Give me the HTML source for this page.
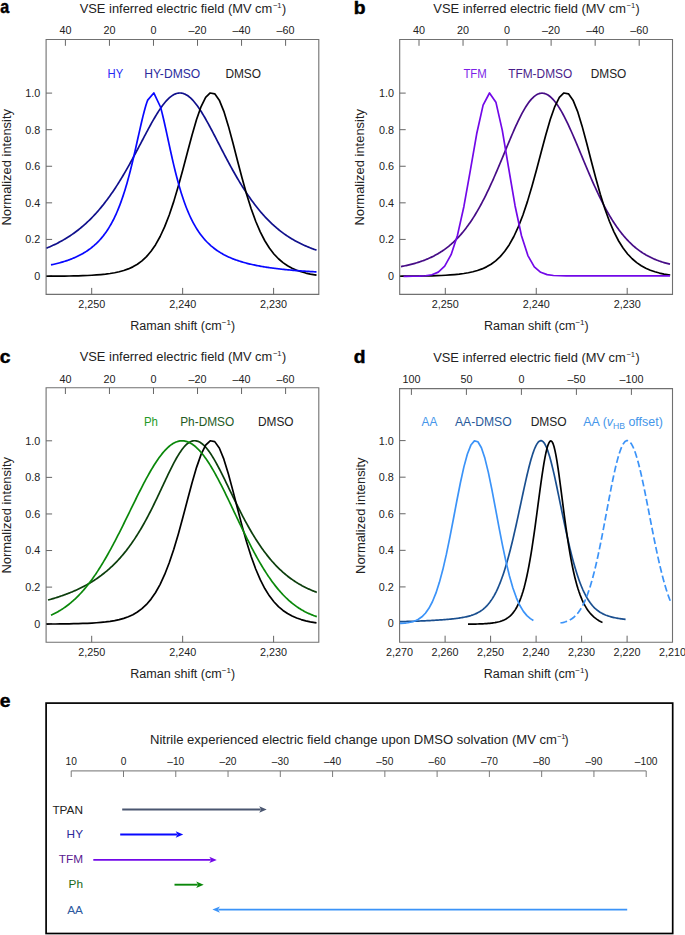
<!DOCTYPE html>
<html><head><meta charset="utf-8"><style>
html,body{margin:0;padding:0;background:#fff;overflow:hidden;}
svg{display:block;font-family:'Liberation Sans', sans-serif;}
</style></head><body>
<svg width="685" height="935" viewBox="0 0 685 935">
<rect width="685" height="935" fill="#fff"/>
<path d="M46.10,39.50 H318.80 V294.40 H46.10 Z" fill="none" stroke="#707070" stroke-width="1.1"/>
<line x1="65.40" y1="39.50" x2="65.40" y2="45.80" stroke="#666" stroke-width="1.00"/>
<line x1="109.44" y1="39.50" x2="109.44" y2="45.80" stroke="#666" stroke-width="1.00"/>
<line x1="153.48" y1="39.50" x2="153.48" y2="45.80" stroke="#666" stroke-width="1.00"/>
<line x1="197.52" y1="39.50" x2="197.52" y2="45.80" stroke="#666" stroke-width="1.00"/>
<line x1="241.56" y1="39.50" x2="241.56" y2="45.80" stroke="#666" stroke-width="1.00"/>
<line x1="285.60" y1="39.50" x2="285.60" y2="45.80" stroke="#666" stroke-width="1.00"/>
<text x="65.40" y="34.30" font-size="10.80" text-anchor="middle" fill="#222" >40</text>
<text x="109.44" y="34.30" font-size="10.80" text-anchor="middle" fill="#222" >20</text>
<text x="153.48" y="34.30" font-size="10.80" text-anchor="middle" fill="#222" >0</text>
<text x="197.52" y="34.30" font-size="10.80" text-anchor="middle" fill="#222" >–20</text>
<text x="241.56" y="34.30" font-size="10.80" text-anchor="middle" fill="#222" >–40</text>
<text x="285.60" y="34.30" font-size="10.80" text-anchor="middle" fill="#222" >–60</text>
<line x1="91.70" y1="294.40" x2="91.70" y2="287.90" stroke="#666" stroke-width="1.00"/>
<line x1="182.65" y1="294.40" x2="182.65" y2="287.90" stroke="#666" stroke-width="1.00"/>
<line x1="273.60" y1="294.40" x2="273.60" y2="287.90" stroke="#666" stroke-width="1.00"/>
<text x="91.70" y="307.90" font-size="10.80" text-anchor="middle" fill="#222" >2,250</text>
<text x="182.65" y="307.90" font-size="10.80" text-anchor="middle" fill="#222" >2,240</text>
<text x="273.60" y="307.90" font-size="10.80" text-anchor="middle" fill="#222" >2,230</text>
<line x1="46.10" y1="93.10" x2="52.10" y2="93.10" stroke="#666" stroke-width="1.00"/>
<line x1="46.10" y1="129.68" x2="52.10" y2="129.68" stroke="#666" stroke-width="1.00"/>
<line x1="46.10" y1="166.26" x2="52.10" y2="166.26" stroke="#666" stroke-width="1.00"/>
<line x1="46.10" y1="202.84" x2="52.10" y2="202.84" stroke="#666" stroke-width="1.00"/>
<line x1="46.10" y1="239.42" x2="52.10" y2="239.42" stroke="#666" stroke-width="1.00"/>
<line x1="46.10" y1="276.00" x2="52.10" y2="276.00" stroke="#666" stroke-width="1.00"/>
<text x="40.30" y="97.00" font-size="10.80" text-anchor="end" fill="#222" >1.0</text>
<text x="40.30" y="133.58" font-size="10.80" text-anchor="end" fill="#222" >0.8</text>
<text x="40.30" y="170.16" font-size="10.80" text-anchor="end" fill="#222" >0.6</text>
<text x="40.30" y="206.74" font-size="10.80" text-anchor="end" fill="#222" >0.4</text>
<text x="40.30" y="243.32" font-size="10.80" text-anchor="end" fill="#222" >0.2</text>
<text x="40.30" y="279.90" font-size="10.80" text-anchor="end" fill="#222" >0</text>
<text x="79.70" y="12.90" font-size="12.5" fill="#222"><tspan textLength="192.6" lengthAdjust="spacingAndGlyphs">VSE inferred electric field (MV cm</tspan><tspan font-size="7.6" dy="-5" dx="0.6">−1</tspan><tspan dy="5" dx="0.4">)</tspan></text>
<text x="130.30" y="330.00" font-size="12.3" fill="#222"><tspan textLength="91.5" lengthAdjust="spacingAndGlyphs">Raman shift (cm</tspan><tspan font-size="8" dy="-4.6">−1</tspan><tspan dy="4.6">)</tspan></text>
<text x="0" y="0" font-size="12.3" fill="#222" text-anchor="middle" textLength="116.5" lengthAdjust="spacingAndGlyphs" transform="translate(10.50,167.25) rotate(-90)">Normalized intensity</text>
<path d="M399.70,39.50 H672.50 V294.40 H399.70 Z" fill="none" stroke="#707070" stroke-width="1.1"/>
<line x1="419.00" y1="39.50" x2="419.00" y2="45.80" stroke="#666" stroke-width="1.00"/>
<line x1="463.04" y1="39.50" x2="463.04" y2="45.80" stroke="#666" stroke-width="1.00"/>
<line x1="507.08" y1="39.50" x2="507.08" y2="45.80" stroke="#666" stroke-width="1.00"/>
<line x1="551.12" y1="39.50" x2="551.12" y2="45.80" stroke="#666" stroke-width="1.00"/>
<line x1="595.16" y1="39.50" x2="595.16" y2="45.80" stroke="#666" stroke-width="1.00"/>
<line x1="639.20" y1="39.50" x2="639.20" y2="45.80" stroke="#666" stroke-width="1.00"/>
<text x="419.00" y="34.30" font-size="10.80" text-anchor="middle" fill="#222" >40</text>
<text x="463.04" y="34.30" font-size="10.80" text-anchor="middle" fill="#222" >20</text>
<text x="507.08" y="34.30" font-size="10.80" text-anchor="middle" fill="#222" >0</text>
<text x="551.12" y="34.30" font-size="10.80" text-anchor="middle" fill="#222" >–20</text>
<text x="595.16" y="34.30" font-size="10.80" text-anchor="middle" fill="#222" >–40</text>
<text x="639.20" y="34.30" font-size="10.80" text-anchor="middle" fill="#222" >–60</text>
<line x1="445.30" y1="294.40" x2="445.30" y2="287.90" stroke="#666" stroke-width="1.00"/>
<line x1="536.25" y1="294.40" x2="536.25" y2="287.90" stroke="#666" stroke-width="1.00"/>
<line x1="627.20" y1="294.40" x2="627.20" y2="287.90" stroke="#666" stroke-width="1.00"/>
<text x="445.30" y="307.90" font-size="10.80" text-anchor="middle" fill="#222" >2,250</text>
<text x="536.25" y="307.90" font-size="10.80" text-anchor="middle" fill="#222" >2,240</text>
<text x="627.20" y="307.90" font-size="10.80" text-anchor="middle" fill="#222" >2,230</text>
<line x1="399.70" y1="93.10" x2="405.70" y2="93.10" stroke="#666" stroke-width="1.00"/>
<line x1="399.70" y1="129.68" x2="405.70" y2="129.68" stroke="#666" stroke-width="1.00"/>
<line x1="399.70" y1="166.26" x2="405.70" y2="166.26" stroke="#666" stroke-width="1.00"/>
<line x1="399.70" y1="202.84" x2="405.70" y2="202.84" stroke="#666" stroke-width="1.00"/>
<line x1="399.70" y1="239.42" x2="405.70" y2="239.42" stroke="#666" stroke-width="1.00"/>
<line x1="399.70" y1="276.00" x2="405.70" y2="276.00" stroke="#666" stroke-width="1.00"/>
<text x="393.90" y="97.00" font-size="10.80" text-anchor="end" fill="#222" >1.0</text>
<text x="393.90" y="133.58" font-size="10.80" text-anchor="end" fill="#222" >0.8</text>
<text x="393.90" y="170.16" font-size="10.80" text-anchor="end" fill="#222" >0.6</text>
<text x="393.90" y="206.74" font-size="10.80" text-anchor="end" fill="#222" >0.4</text>
<text x="393.90" y="243.32" font-size="10.80" text-anchor="end" fill="#222" >0.2</text>
<text x="393.90" y="279.90" font-size="10.80" text-anchor="end" fill="#222" >0</text>
<text x="433.30" y="12.90" font-size="12.5" fill="#222"><tspan textLength="192.6" lengthAdjust="spacingAndGlyphs">VSE inferred electric field (MV cm</tspan><tspan font-size="7.6" dy="-5" dx="0.6">−1</tspan><tspan dy="5" dx="0.4">)</tspan></text>
<text x="483.90" y="330.00" font-size="12.3" fill="#222"><tspan textLength="91.5" lengthAdjust="spacingAndGlyphs">Raman shift (cm</tspan><tspan font-size="8" dy="-4.6">−1</tspan><tspan dy="4.6">)</tspan></text>
<text x="0" y="0" font-size="12.3" fill="#222" text-anchor="middle" textLength="116.5" lengthAdjust="spacingAndGlyphs" transform="translate(364.10,167.25) rotate(-90)">Normalized intensity</text>
<path d="M46.10,387.70 H318.80 V642.30 H46.10 Z" fill="none" stroke="#707070" stroke-width="1.1"/>
<line x1="65.40" y1="387.70" x2="65.40" y2="394.00" stroke="#666" stroke-width="1.00"/>
<line x1="109.44" y1="387.70" x2="109.44" y2="394.00" stroke="#666" stroke-width="1.00"/>
<line x1="153.48" y1="387.70" x2="153.48" y2="394.00" stroke="#666" stroke-width="1.00"/>
<line x1="197.52" y1="387.70" x2="197.52" y2="394.00" stroke="#666" stroke-width="1.00"/>
<line x1="241.56" y1="387.70" x2="241.56" y2="394.00" stroke="#666" stroke-width="1.00"/>
<line x1="285.60" y1="387.70" x2="285.60" y2="394.00" stroke="#666" stroke-width="1.00"/>
<text x="65.40" y="382.50" font-size="10.80" text-anchor="middle" fill="#222" >40</text>
<text x="109.44" y="382.50" font-size="10.80" text-anchor="middle" fill="#222" >20</text>
<text x="153.48" y="382.50" font-size="10.80" text-anchor="middle" fill="#222" >0</text>
<text x="197.52" y="382.50" font-size="10.80" text-anchor="middle" fill="#222" >–20</text>
<text x="241.56" y="382.50" font-size="10.80" text-anchor="middle" fill="#222" >–40</text>
<text x="285.60" y="382.50" font-size="10.80" text-anchor="middle" fill="#222" >–60</text>
<line x1="91.70" y1="642.30" x2="91.70" y2="635.80" stroke="#666" stroke-width="1.00"/>
<line x1="182.65" y1="642.30" x2="182.65" y2="635.80" stroke="#666" stroke-width="1.00"/>
<line x1="273.60" y1="642.30" x2="273.60" y2="635.80" stroke="#666" stroke-width="1.00"/>
<text x="91.70" y="655.80" font-size="10.80" text-anchor="middle" fill="#222" >2,250</text>
<text x="182.65" y="655.80" font-size="10.80" text-anchor="middle" fill="#222" >2,240</text>
<text x="273.60" y="655.80" font-size="10.80" text-anchor="middle" fill="#222" >2,230</text>
<line x1="46.10" y1="440.80" x2="52.10" y2="440.80" stroke="#666" stroke-width="1.00"/>
<line x1="46.10" y1="477.38" x2="52.10" y2="477.38" stroke="#666" stroke-width="1.00"/>
<line x1="46.10" y1="513.96" x2="52.10" y2="513.96" stroke="#666" stroke-width="1.00"/>
<line x1="46.10" y1="550.54" x2="52.10" y2="550.54" stroke="#666" stroke-width="1.00"/>
<line x1="46.10" y1="587.12" x2="52.10" y2="587.12" stroke="#666" stroke-width="1.00"/>
<line x1="46.10" y1="623.70" x2="52.10" y2="623.70" stroke="#666" stroke-width="1.00"/>
<text x="40.30" y="444.70" font-size="10.80" text-anchor="end" fill="#222" >1.0</text>
<text x="40.30" y="481.28" font-size="10.80" text-anchor="end" fill="#222" >0.8</text>
<text x="40.30" y="517.86" font-size="10.80" text-anchor="end" fill="#222" >0.6</text>
<text x="40.30" y="554.44" font-size="10.80" text-anchor="end" fill="#222" >0.4</text>
<text x="40.30" y="591.02" font-size="10.80" text-anchor="end" fill="#222" >0.2</text>
<text x="40.30" y="627.60" font-size="10.80" text-anchor="end" fill="#222" >0</text>
<text x="79.70" y="361.10" font-size="12.5" fill="#222"><tspan textLength="192.6" lengthAdjust="spacingAndGlyphs">VSE inferred electric field (MV cm</tspan><tspan font-size="7.6" dy="-5" dx="0.6">−1</tspan><tspan dy="5" dx="0.4">)</tspan></text>
<text x="130.30" y="677.90" font-size="12.3" fill="#222"><tspan textLength="91.5" lengthAdjust="spacingAndGlyphs">Raman shift (cm</tspan><tspan font-size="8" dy="-4.6">−1</tspan><tspan dy="4.6">)</tspan></text>
<text x="0" y="0" font-size="12.3" fill="#222" text-anchor="middle" textLength="116.5" lengthAdjust="spacingAndGlyphs" transform="translate(10.50,515.30) rotate(-90)">Normalized intensity</text>
<path d="M399.60,388.60 H672.50 V642.20 H399.60 Z" fill="none" stroke="#707070" stroke-width="1.1"/>
<line x1="411.40" y1="388.60" x2="411.40" y2="394.90" stroke="#666" stroke-width="1.00"/>
<line x1="466.40" y1="388.60" x2="466.40" y2="394.90" stroke="#666" stroke-width="1.00"/>
<line x1="521.40" y1="388.60" x2="521.40" y2="394.90" stroke="#666" stroke-width="1.00"/>
<line x1="576.40" y1="388.60" x2="576.40" y2="394.90" stroke="#666" stroke-width="1.00"/>
<line x1="631.40" y1="388.60" x2="631.40" y2="394.90" stroke="#666" stroke-width="1.00"/>
<text x="411.40" y="383.40" font-size="10.80" text-anchor="middle" fill="#222" >100</text>
<text x="466.40" y="383.40" font-size="10.80" text-anchor="middle" fill="#222" >50</text>
<text x="521.40" y="383.40" font-size="10.80" text-anchor="middle" fill="#222" >0</text>
<text x="576.40" y="383.40" font-size="10.80" text-anchor="middle" fill="#222" >–50</text>
<text x="631.40" y="383.40" font-size="10.80" text-anchor="middle" fill="#222" >–100</text>
<line x1="445.10" y1="642.20" x2="445.10" y2="635.70" stroke="#666" stroke-width="1.00"/>
<line x1="490.60" y1="642.20" x2="490.60" y2="635.70" stroke="#666" stroke-width="1.00"/>
<line x1="536.10" y1="642.20" x2="536.10" y2="635.70" stroke="#666" stroke-width="1.00"/>
<line x1="581.60" y1="642.20" x2="581.60" y2="635.70" stroke="#666" stroke-width="1.00"/>
<line x1="627.10" y1="642.20" x2="627.10" y2="635.70" stroke="#666" stroke-width="1.00"/>
<text x="399.60" y="656.30" font-size="10.80" text-anchor="middle" fill="#222" >2,270</text>
<text x="445.10" y="656.30" font-size="10.80" text-anchor="middle" fill="#222" >2,260</text>
<text x="490.60" y="656.30" font-size="10.80" text-anchor="middle" fill="#222" >2,250</text>
<text x="536.10" y="656.30" font-size="10.80" text-anchor="middle" fill="#222" >2,240</text>
<text x="581.60" y="656.30" font-size="10.80" text-anchor="middle" fill="#222" >2,230</text>
<text x="627.10" y="656.30" font-size="10.80" text-anchor="middle" fill="#222" >2,220</text>
<text x="672.60" y="656.30" font-size="10.80" text-anchor="middle" fill="#222" >2,210</text>
<line x1="399.60" y1="440.60" x2="405.60" y2="440.60" stroke="#666" stroke-width="1.00"/>
<line x1="399.60" y1="477.18" x2="405.60" y2="477.18" stroke="#666" stroke-width="1.00"/>
<line x1="399.60" y1="513.76" x2="405.60" y2="513.76" stroke="#666" stroke-width="1.00"/>
<line x1="399.60" y1="550.34" x2="405.60" y2="550.34" stroke="#666" stroke-width="1.00"/>
<line x1="399.60" y1="586.92" x2="405.60" y2="586.92" stroke="#666" stroke-width="1.00"/>
<line x1="399.60" y1="623.50" x2="405.60" y2="623.50" stroke="#666" stroke-width="1.00"/>
<text x="393.80" y="444.50" font-size="10.80" text-anchor="end" fill="#222" >1.0</text>
<text x="393.80" y="481.08" font-size="10.80" text-anchor="end" fill="#222" >0.8</text>
<text x="393.80" y="517.66" font-size="10.80" text-anchor="end" fill="#222" >0.6</text>
<text x="393.80" y="554.24" font-size="10.80" text-anchor="end" fill="#222" >0.4</text>
<text x="393.80" y="590.82" font-size="10.80" text-anchor="end" fill="#222" >0.2</text>
<text x="393.80" y="627.40" font-size="10.80" text-anchor="end" fill="#222" >0</text>
<text x="433.20" y="362.00" font-size="12.5" fill="#222"><tspan textLength="192.6" lengthAdjust="spacingAndGlyphs">VSE inferred electric field (MV cm</tspan><tspan font-size="7.6" dy="-5" dx="0.6">−1</tspan><tspan dy="5" dx="0.4">)</tspan></text>
<text x="483.80" y="677.80" font-size="12.3" fill="#222"><tspan textLength="91.5" lengthAdjust="spacingAndGlyphs">Raman shift (cm</tspan><tspan font-size="8" dy="-4.6">−1</tspan><tspan dy="4.6">)</tspan></text>
<text x="0" y="0" font-size="12.3" fill="#222" text-anchor="middle" textLength="116.5" lengthAdjust="spacingAndGlyphs" transform="translate(365.30,515.70) rotate(-90)">Normalized intensity</text>
<text x="0" y="0" font-size="17.5" font-weight="bold" fill="#000" stroke="#000" stroke-width="0.45" transform="translate(0.20,12.80) scale(0.92,1)">a</text>
<text x="0" y="0" font-size="17.5" font-weight="bold" fill="#000" stroke="#000" stroke-width="0.45" transform="translate(353.80,13.80) scale(1.10,1)">b</text>
<text x="0" y="0" font-size="17.5" font-weight="bold" fill="#000" stroke="#000" stroke-width="0.45" transform="translate(-0.20,363.00) scale(1.10,1)">c</text>
<text x="0" y="0" font-size="17.5" font-weight="bold" fill="#000" stroke="#000" stroke-width="0.45" transform="translate(353.80,362.70) scale(1.10,1)">d</text>
<text x="0" y="0" font-size="17.5" font-weight="bold" fill="#000" stroke="#000" stroke-width="0.45" transform="translate(-0.20,706.80) scale(1.10,1)">e</text>
<text x="107.60" y="77.60" font-size="12.00" fill="#2727f5" textLength="15.60" lengthAdjust="spacingAndGlyphs" >HY</text>
<text x="144.20" y="77.60" font-size="12.00" fill="#2b2b9c" textLength="56.00" lengthAdjust="spacingAndGlyphs" >HY-DMSO</text>
<text x="225.40" y="77.60" font-size="12.00" fill="#222" textLength="35.60" lengthAdjust="spacingAndGlyphs" >DMSO</text>
<text x="463.40" y="77.60" font-size="12.00" fill="#7d1fe8" textLength="23.40" lengthAdjust="spacingAndGlyphs" >TFM</text>
<text x="508.20" y="77.60" font-size="12.00" fill="#4a1d8a" textLength="64.00" lengthAdjust="spacingAndGlyphs" >TFM-DMSO</text>
<text x="590.70" y="77.60" font-size="12.00" fill="#222" textLength="35.60" lengthAdjust="spacingAndGlyphs" >DMSO</text>
<text x="143.90" y="425.50" font-size="12.00" fill="#249a24" textLength="14.00" lengthAdjust="spacingAndGlyphs" >Ph</text>
<text x="180.20" y="425.50" font-size="12.00" fill="#245a24" textLength="54.00" lengthAdjust="spacingAndGlyphs" >Ph-DMSO</text>
<text x="258.00" y="425.50" font-size="12.00" fill="#222" textLength="35.60" lengthAdjust="spacingAndGlyphs" >DMSO</text>
<text x="421.50" y="425.50" font-size="12.00" fill="#4596ea" textLength="15.80" lengthAdjust="spacingAndGlyphs" >AA</text>
<text x="455.00" y="425.50" font-size="12.00" fill="#275a9a" textLength="56.60" lengthAdjust="spacingAndGlyphs" >AA-DMSO</text>
<text x="530.70" y="425.50" font-size="12.00" fill="#222" textLength="36.00" lengthAdjust="spacingAndGlyphs" >DMSO</text>
<text x="583.3" y="425.5" font-size="12.45" fill="#4596ea">AA (<tspan font-style="italic">v</tspan><tspan font-size="8.6" dy="3.5">HB</tspan><tspan dy="-3.5"> offset)</tspan></text>
<path d="M46.50,248.17 L47.50,247.76 L48.50,247.34 L49.50,246.91 L50.50,246.47 L51.50,246.02 L52.50,245.57 L53.50,245.10 L54.50,244.63 L55.50,244.14 L56.50,243.65 L57.50,243.14 L58.50,242.63 L59.50,242.10 L60.50,241.56 L61.50,241.01 L62.50,240.45 L63.50,239.88 L64.50,239.29 L65.50,238.70 L66.50,238.09 L67.50,237.47 L68.50,236.83 L69.50,236.18 L70.50,235.52 L71.50,234.85 L72.50,234.16 L73.50,233.45 L74.50,232.73 L75.50,232.00 L76.50,231.25 L77.50,230.49 L78.50,229.71 L79.50,228.92 L80.50,228.10 L81.50,227.28 L82.50,226.43 L83.50,225.57 L84.50,224.69 L85.50,223.80 L86.50,222.88 L87.50,221.95 L88.50,221.00 L89.50,220.03 L90.50,219.05 L91.50,218.04 L92.50,217.02 L93.50,215.97 L94.50,214.91 L95.50,213.82 L96.50,212.72 L97.50,211.59 L98.50,210.45 L99.50,209.28 L100.50,208.09 L101.50,206.89 L102.50,205.66 L103.50,204.41 L104.50,203.13 L105.50,201.84 L106.50,200.52 L107.50,199.18 L108.50,197.82 L109.50,196.44 L110.50,195.04 L111.50,193.61 L112.50,192.16 L113.50,190.69 L114.50,189.20 L115.50,187.69 L116.50,186.15 L117.50,184.59 L118.50,183.01 L119.50,181.41 L120.50,179.79 L121.50,178.15 L122.50,176.48 L123.50,174.80 L124.50,173.10 L125.50,171.38 L126.50,169.64 L127.50,167.88 L128.50,166.10 L129.50,164.31 L130.50,162.50 L131.50,160.68 L132.50,158.85 L133.50,157.00 L134.50,155.14 L135.50,153.26 L136.50,151.38 L137.50,149.50 L138.50,147.60 L139.50,145.70 L140.50,143.80 L141.50,141.89 L142.50,139.99 L143.50,138.08 L144.50,136.19 L145.50,134.29 L146.50,132.41 L147.50,130.54 L148.50,128.68 L149.50,126.84 L150.50,125.01 L151.50,123.21 L152.50,121.43 L153.50,119.67 L154.50,117.95 L155.50,116.26 L156.50,114.60 L157.50,112.98 L158.50,111.41 L159.50,109.88 L160.50,108.39 L161.50,106.96 L162.50,105.58 L163.50,104.26 L164.50,103.00 L165.50,101.80 L166.50,100.67 L167.50,99.61 L168.50,98.62 L169.50,97.70 L170.50,96.86 L171.50,96.09 L172.50,95.41 L173.50,94.81 L174.50,94.29 L175.50,93.85 L176.50,93.51 L177.50,93.25 L178.50,93.08 L179.50,92.99 L180.50,93.00 L181.50,93.10 L182.50,93.28 L183.50,93.56 L184.50,93.93 L185.50,94.39 L186.50,94.93 L187.50,95.56 L188.50,96.27 L189.50,97.07 L190.50,97.94 L191.50,98.89 L192.50,99.92 L193.50,101.02 L194.50,102.19 L195.50,103.43 L196.50,104.73 L197.50,106.09 L198.50,107.51 L199.50,108.98 L200.50,110.50 L201.50,112.07 L202.50,113.69 L203.50,115.35 L204.50,117.05 L205.50,118.78 L206.50,120.55 L207.50,122.34 L208.50,124.16 L209.50,126.01 L210.50,127.87 L211.50,129.76 L212.50,131.66 L213.50,133.57 L214.50,135.49 L215.50,137.42 L216.50,139.36 L217.50,141.30 L218.50,143.24 L219.50,145.19 L220.50,147.13 L221.50,149.06 L222.50,151.00 L223.50,152.92 L224.50,154.84 L225.50,156.74 L226.50,158.64 L227.50,160.52 L228.50,162.39 L229.50,164.25 L230.50,166.09 L231.50,167.91 L232.50,169.72 L233.50,171.51 L234.50,173.28 L235.50,175.03 L236.50,176.77 L237.50,178.48 L238.50,180.17 L239.50,181.84 L240.50,183.49 L241.50,185.12 L242.50,186.72 L243.50,188.30 L244.50,189.86 L245.50,191.40 L246.50,192.92 L247.50,194.41 L248.50,195.87 L249.50,197.32 L250.50,198.74 L251.50,200.14 L252.50,201.51 L253.50,202.86 L254.50,204.19 L255.50,205.50 L256.50,206.78 L257.50,208.04 L258.50,209.27 L259.50,210.49 L260.50,211.68 L261.50,212.85 L262.50,213.99 L263.50,215.12 L264.50,216.22 L265.50,217.30 L266.50,218.36 L267.50,219.40 L268.50,220.42 L269.50,221.41 L270.50,222.39 L271.50,223.34 L272.50,224.28 L273.50,225.20 L274.50,226.09 L275.50,226.97 L276.50,227.83 L277.50,228.67 L278.50,229.50 L279.50,230.30 L280.50,231.09 L281.50,231.86 L282.50,232.61 L283.50,233.35 L284.50,234.07 L285.50,234.77 L286.50,235.46 L287.50,236.13 L288.50,236.78 L289.50,237.43 L290.50,238.05 L291.50,238.67 L292.50,239.26 L293.50,239.85 L294.50,240.42 L295.50,240.98 L296.50,241.52 L297.50,242.06 L298.50,242.58 L299.50,243.08 L300.50,243.58 L301.50,244.07 L302.50,244.54 L303.50,245.00 L304.50,245.45 L305.50,245.90 L306.50,246.33 L307.50,246.75 L308.50,247.16 L309.50,247.56 L310.50,247.95 L311.50,248.34 L312.50,248.71 L313.50,249.08 L314.50,249.44 L315.50,249.79 L316.50,250.13" fill="none" stroke="#10108c" stroke-width="1.70" stroke-linejoin="round" />
<path d="M46.50,276.24 L50.95,276.21 L55.50,276.18 L60.05,276.13 L64.60,276.07 L69.15,276.00 L73.70,275.91 L78.25,275.80 L82.80,275.65 L87.35,275.48 L91.90,275.25 L96.45,274.96 L101.00,274.59 L105.55,274.13 L110.10,273.53 L114.65,272.77 L119.20,271.79 L123.75,270.53 L128.30,268.92 L132.85,266.86 L137.40,264.22 L141.95,260.87 L146.50,256.63 L151.05,251.30 L155.60,244.67 L160.15,236.51 L164.70,226.65 L169.25,214.95 L173.80,201.38 L178.35,186.10 L182.90,169.49 L187.45,152.22 L192.00,135.19 L196.55,119.56 L201.10,106.58 L205.65,97.43 L210.20,92.98 L214.75,93.82 L219.30,100.18 L223.85,111.36 L228.40,126.13 L232.95,143.06 L237.50,160.76 L242.05,178.09 L246.60,194.23 L251.15,208.67 L255.70,221.22 L260.25,231.87 L264.80,240.75 L269.35,248.04 L273.90,253.98 L278.45,258.77 L283.00,262.63 L287.55,265.72 L292.10,268.20 L296.65,270.18 L301.20,271.77 L305.75,273.05 L310.30,274.08 L314.85,274.90 L316.50,275.16" fill="none" stroke="#000" stroke-width="1.70" stroke-linejoin="round" />
<path d="M51.00,264.92 L52.00,264.70 L53.00,264.48 L54.00,264.25 L55.00,264.01 L56.00,263.76 L57.00,263.51 L58.00,263.26 L59.00,262.99 L60.00,262.72 L61.00,262.44 L62.00,262.15 L63.00,261.85 L64.00,261.54 L65.00,261.23 L66.00,260.90 L67.00,260.57 L68.00,260.22 L69.00,259.86 L70.00,259.49 L71.00,259.11 L72.00,258.72 L73.00,258.32 L74.00,257.90 L75.00,257.47 L76.00,257.02 L77.00,256.56 L78.00,256.08 L79.00,255.59 L80.00,255.08 L81.00,254.55 L82.00,254.00 L83.00,253.43 L84.00,252.84 L85.00,252.23 L86.00,251.60 L87.00,250.95 L88.00,250.27 L89.00,249.56 L90.00,248.83 L91.00,248.07 L92.00,247.28 L93.00,246.46 L94.00,245.61 L95.00,244.72 L96.00,243.80 L97.00,242.84 L98.00,241.84 L99.00,240.80 L100.00,239.71 L101.00,238.58 L102.00,237.40 L103.00,236.17 L104.00,234.89 L105.00,233.56 L106.00,232.16 L107.00,230.70 L108.00,229.18 L109.00,227.59 L110.00,225.93 L111.00,224.20 L112.00,222.38 L113.00,220.49 L114.00,218.51 L115.00,216.43 L116.00,214.27 L117.00,212.01 L118.00,209.64 L119.00,207.17 L120.00,204.59 L121.00,201.89 L122.00,199.08 L123.00,196.14 L124.00,193.09 L125.00,189.90 L126.00,186.58 L127.00,183.14 L128.00,179.56 L129.00,175.86 L130.00,172.03 L131.00,168.07 L132.00,164.00 L133.00,159.82 L134.00,155.55 L135.00,151.19 L136.00,146.76 L137.00,142.29 L138.00,137.80 L139.00,133.31 L140.00,128.86 L141.00,124.48 L142.00,120.21 L143.00,116.09 L144.00,112.17 L145.00,108.49 L146.00,105.10 L147.00,102.04 L147.70,100.12 L153.80,92.93 L160.50,107.00 L161.00,108.81 L162.00,112.64 L163.00,116.73 L164.00,121.02 L165.00,125.46 L166.00,130.01 L167.00,134.62 L168.00,139.26 L169.00,143.89 L170.00,148.49 L171.00,153.03 L172.00,157.48 L173.00,161.84 L174.00,166.09 L175.00,170.21 L176.00,174.21 L177.00,178.07 L178.00,181.80 L179.00,185.38 L180.00,188.83 L181.00,192.14 L182.00,195.31 L183.00,198.35 L184.00,201.26 L185.00,204.04 L186.00,206.71 L187.00,209.25 L188.00,211.68 L189.00,214.01 L190.00,216.23 L191.00,218.35 L192.00,220.37 L193.00,222.31 L194.00,224.15 L195.00,225.92 L196.00,227.61 L197.00,229.22 L198.00,230.77 L199.00,232.25 L200.00,233.66 L201.00,235.01 L202.00,236.30 L203.00,237.54 L204.00,238.73 L205.00,239.87 L206.00,240.96 L207.00,242.01 L208.00,243.01 L209.00,243.97 L210.00,244.90 L211.00,245.79 L212.00,246.64 L213.00,247.46 L214.00,248.25 L215.00,249.01 L216.00,249.74 L217.00,250.44 L218.00,251.12 L219.00,251.77 L220.00,252.40 L221.00,253.01 L222.00,253.59 L223.00,254.15 L224.00,254.70 L225.00,255.22 L226.00,255.73 L227.00,256.22 L228.00,256.69 L229.00,257.15 L230.00,257.59 L231.00,258.02 L232.00,258.44 L233.00,258.84 L234.00,259.22 L235.00,259.60 L236.00,259.96 L237.00,260.32 L238.00,260.66 L239.00,260.99 L240.00,261.31 L241.00,261.62 L242.00,261.93 L243.00,262.22 L244.00,262.51 L245.00,262.78 L246.00,263.05 L247.00,263.31 L248.00,263.57 L249.00,263.82 L250.00,264.06 L251.00,264.29 L252.00,264.52 L253.00,264.74 L254.00,264.95 L255.00,265.16 L256.00,265.37 L257.00,265.57 L258.00,265.76 L259.00,265.95 L260.00,266.13 L261.00,266.31 L262.00,266.49 L263.00,266.66 L264.00,266.82 L265.00,266.98 L266.00,267.14 L267.00,267.30 L268.00,267.45 L269.00,267.59 L270.00,267.74 L271.00,267.88 L272.00,268.02 L273.00,268.15 L274.00,268.28 L275.00,268.41 L276.00,268.53 L277.00,268.65 L278.00,268.77 L279.00,268.89 L280.00,269.01 L281.00,269.12 L282.00,269.23 L283.00,269.33 L284.00,269.44 L285.00,269.54 L286.00,269.64 L287.00,269.74 L288.00,269.84 L289.00,269.93 L290.00,270.02 L291.00,270.11 L292.00,270.20 L293.00,270.29 L294.00,270.37 L295.00,270.46 L296.00,270.54 L297.00,270.62 L298.00,270.70 L299.00,270.77 L300.00,270.85 L301.00,270.92 L302.00,271.00 L303.00,271.07 L304.00,271.14 L305.00,271.21 L306.00,271.27 L307.00,271.34 L308.00,271.41 L309.00,271.47 L310.00,271.53 L311.00,271.59 L312.00,271.65 L313.00,271.71 L314.00,271.77 L315.00,271.83 L316.00,271.89 L316.50,271.91" fill="none" stroke="#0808ff" stroke-width="1.70" stroke-linejoin="round" />
<path d="M401.00,266.56 L402.00,266.37 L403.00,266.18 L404.00,265.98 L405.00,265.77 L406.00,265.56 L407.00,265.34 L408.00,265.11 L409.00,264.88 L410.00,264.64 L411.00,264.39 L412.00,264.13 L413.00,263.87 L414.00,263.59 L415.00,263.31 L416.00,263.02 L417.00,262.72 L418.00,262.41 L419.00,262.09 L420.00,261.76 L421.00,261.42 L422.00,261.07 L423.00,260.71 L424.00,260.34 L425.00,259.95 L426.00,259.55 L427.00,259.14 L428.00,258.72 L429.00,258.28 L430.00,257.83 L431.00,257.37 L432.00,256.89 L433.00,256.40 L434.00,255.89 L435.00,255.36 L436.00,254.82 L437.00,254.26 L438.00,253.68 L439.00,253.09 L440.00,252.47 L441.00,251.84 L442.00,251.19 L443.00,250.52 L444.00,249.83 L445.00,249.11 L446.00,248.38 L447.00,247.62 L448.00,246.84 L449.00,246.04 L450.00,245.21 L451.00,244.36 L452.00,243.48 L453.00,242.57 L454.00,241.64 L455.00,240.69 L456.00,239.70 L457.00,238.69 L458.00,237.64 L459.00,236.57 L460.00,235.47 L461.00,234.34 L462.00,233.17 L463.00,231.98 L464.00,230.75 L465.00,229.49 L466.00,228.19 L467.00,226.86 L468.00,225.50 L469.00,224.10 L470.00,222.67 L471.00,221.20 L472.00,219.70 L473.00,218.16 L474.00,216.58 L475.00,214.96 L476.00,213.31 L477.00,211.63 L478.00,209.90 L479.00,208.14 L480.00,206.34 L481.00,204.50 L482.00,202.63 L483.00,200.72 L484.00,198.78 L485.00,196.80 L486.00,194.78 L487.00,192.74 L488.00,190.65 L489.00,188.54 L490.00,186.39 L491.00,184.22 L492.00,182.01 L493.00,179.78 L494.00,177.52 L495.00,175.24 L496.00,172.93 L497.00,170.60 L498.00,168.25 L499.00,165.89 L500.00,163.51 L501.00,161.11 L502.00,158.71 L503.00,156.30 L504.00,153.89 L505.00,151.47 L506.00,149.06 L507.00,146.65 L508.00,144.24 L509.00,141.85 L510.00,139.48 L511.00,137.12 L512.00,134.78 L513.00,132.47 L514.00,130.19 L515.00,127.94 L516.00,125.72 L517.00,123.55 L518.00,121.43 L519.00,119.35 L520.00,117.32 L521.00,115.36 L522.00,113.45 L523.00,111.61 L524.00,109.83 L525.00,108.13 L526.00,106.51 L527.00,104.96 L528.00,103.50 L529.00,102.12 L530.00,100.83 L531.00,99.64 L532.00,98.54 L533.00,97.53 L534.00,96.63 L535.00,95.83 L536.00,95.13 L537.00,94.54 L538.00,94.06 L539.00,93.68 L540.00,93.41 L541.00,93.26 L542.00,93.21 L543.00,93.27 L544.00,93.43 L545.00,93.69 L546.00,94.06 L547.00,94.52 L548.00,95.08 L549.00,95.75 L550.00,96.51 L551.00,97.36 L552.00,98.31 L553.00,99.35 L554.00,100.48 L555.00,101.69 L556.00,102.99 L557.00,104.38 L558.00,105.84 L559.00,107.38 L560.00,109.00 L561.00,110.69 L562.00,112.44 L563.00,114.26 L564.00,116.14 L565.00,118.08 L566.00,120.07 L567.00,122.12 L568.00,124.21 L569.00,126.35 L570.00,128.53 L571.00,130.75 L572.00,133.00 L573.00,135.28 L574.00,137.59 L575.00,139.92 L576.00,142.28 L577.00,144.65 L578.00,147.03 L579.00,149.43 L580.00,151.83 L581.00,154.24 L582.00,156.65 L583.00,159.06 L584.00,161.47 L585.00,163.87 L586.00,166.26 L587.00,168.64 L588.00,171.01 L589.00,173.36 L590.00,175.69 L591.00,178.00 L592.00,180.29 L593.00,182.56 L594.00,184.81 L595.00,187.02 L596.00,189.21 L597.00,191.37 L598.00,193.50 L599.00,195.60 L600.00,197.66 L601.00,199.69 L602.00,201.69 L603.00,203.65 L604.00,205.57 L605.00,207.46 L606.00,209.32 L607.00,211.13 L608.00,212.91 L609.00,214.65 L610.00,216.35 L611.00,218.02 L612.00,219.64 L613.00,221.23 L614.00,222.78 L615.00,224.29 L616.00,225.77 L617.00,227.21 L618.00,228.61 L619.00,229.98 L620.00,231.30 L621.00,232.60 L622.00,233.86 L623.00,235.08 L624.00,236.27 L625.00,237.42 L626.00,238.54 L627.00,239.63 L628.00,240.69 L629.00,241.72 L630.00,242.71 L631.00,243.67 L632.00,244.61 L633.00,245.51 L634.00,246.39 L635.00,247.24 L636.00,248.06 L637.00,248.86 L638.00,249.63 L639.00,250.37 L640.00,251.09 L641.00,251.79 L642.00,252.46 L643.00,253.12 L644.00,253.74 L645.00,254.35 L646.00,254.94 L647.00,255.50 L648.00,256.05 L649.00,256.58 L650.00,257.09 L651.00,257.58 L652.00,258.05 L653.00,258.51 L654.00,258.95 L655.00,259.38 L656.00,259.79 L657.00,260.18 L658.00,260.56 L659.00,260.93 L660.00,261.29 L661.00,261.63 L662.00,261.96 L663.00,262.27 L664.00,262.58 L665.00,262.87 L666.00,263.15 L667.00,263.42 L668.00,263.69 L669.00,263.94 L670.00,264.18" fill="none" stroke="#460c86" stroke-width="1.70" stroke-linejoin="round" />
<path d="M400.20,276.24 L404.65,276.21 L409.20,276.18 L413.75,276.13 L418.30,276.07 L422.85,276.00 L427.40,275.91 L431.95,275.80 L436.50,275.65 L441.05,275.48 L445.60,275.25 L450.15,274.96 L454.70,274.59 L459.25,274.13 L463.80,273.53 L468.35,272.77 L472.90,271.79 L477.45,270.53 L482.00,268.92 L486.55,266.86 L491.10,264.22 L495.65,260.87 L500.20,256.63 L504.75,251.30 L509.30,244.67 L513.85,236.51 L518.40,226.65 L522.95,214.95 L527.50,201.38 L532.05,186.10 L536.60,169.49 L541.15,152.22 L545.70,135.19 L550.25,119.56 L554.80,106.58 L559.35,97.43 L563.90,92.98 L568.45,93.82 L573.00,100.18 L577.55,111.36 L582.10,126.13 L586.65,143.06 L591.20,160.76 L595.75,178.09 L600.30,194.23 L604.85,208.67 L609.40,221.22 L613.95,231.87 L618.50,240.75 L623.05,248.04 L627.60,253.98 L632.15,258.77 L636.70,262.63 L641.25,265.72 L645.80,268.20 L650.35,270.18 L654.90,271.77 L659.45,273.05 L664.00,274.08 L668.55,274.90 L670.20,275.16" fill="none" stroke="#000" stroke-width="1.70" stroke-linejoin="round" />
<path d="M403.50,276.28 L406.30,276.28 L412.70,276.25 L419.10,276.14 L425.50,275.77 L431.90,274.73 L438.30,272.09 L444.70,266.20 L451.10,254.71 L457.50,235.17 L463.90,206.46 L470.30,170.61 L476.70,133.80 L483.10,105.08 L489.50,92.99 L495.90,102.17 L502.30,130.41 L508.70,168.47 L515.10,205.95 L521.50,235.74 L527.90,255.56 L534.30,266.81 L540.70,272.30 L547.10,274.63 L553.50,275.49 L559.90,275.76 L566.30,275.84 L572.70,275.86 L579.10,275.86 L585.50,275.86 L591.90,275.86 L598.30,275.86 L604.70,275.86 L611.10,275.86 L617.50,275.86 L623.90,275.86 L630.30,275.86 L636.70,275.86 L643.10,275.86 L649.50,275.86 L655.90,275.86 L662.30,275.86 L668.70,275.86 L670.00,275.86" fill="none" stroke="#7208e8" stroke-width="1.70" stroke-linejoin="round" />
<path d="M48.00,600.03 L49.00,599.76 L50.00,599.48 L51.00,599.20 L52.00,598.91 L53.00,598.62 L54.00,598.32 L55.00,598.01 L56.00,597.70 L57.00,597.39 L58.00,597.07 L59.00,596.74 L60.00,596.41 L61.00,596.07 L62.00,595.73 L63.00,595.38 L64.00,595.02 L65.00,594.66 L66.00,594.29 L67.00,593.91 L68.00,593.53 L69.00,593.14 L70.00,592.74 L71.00,592.33 L72.00,591.92 L73.00,591.50 L74.00,591.07 L75.00,590.63 L76.00,590.18 L77.00,589.73 L78.00,589.26 L79.00,588.79 L80.00,588.30 L81.00,587.81 L82.00,587.31 L83.00,586.80 L84.00,586.27 L85.00,585.74 L86.00,585.20 L87.00,584.64 L88.00,584.08 L89.00,583.50 L90.00,582.91 L91.00,582.31 L92.00,581.69 L93.00,581.07 L94.00,580.43 L95.00,579.77 L96.00,579.11 L97.00,578.43 L98.00,577.73 L99.00,577.02 L100.00,576.30 L101.00,575.56 L102.00,574.80 L103.00,574.03 L104.00,573.24 L105.00,572.44 L106.00,571.62 L107.00,570.78 L108.00,569.92 L109.00,569.04 L110.00,568.15 L111.00,567.23 L112.00,566.30 L113.00,565.35 L114.00,564.37 L115.00,563.37 L116.00,562.36 L117.00,561.32 L118.00,560.26 L119.00,559.17 L120.00,558.06 L121.00,556.93 L122.00,555.78 L123.00,554.60 L124.00,553.39 L125.00,552.16 L126.00,550.91 L127.00,549.62 L128.00,548.31 L129.00,546.98 L130.00,545.61 L131.00,544.22 L132.00,542.80 L133.00,541.35 L134.00,539.87 L135.00,538.36 L136.00,536.83 L137.00,535.26 L138.00,533.67 L139.00,532.04 L140.00,530.39 L141.00,528.70 L142.00,526.99 L143.00,525.24 L144.00,523.47 L145.00,521.67 L146.00,519.84 L147.00,517.98 L148.00,516.09 L149.00,514.18 L150.00,512.24 L151.00,510.28 L152.00,508.29 L153.00,506.28 L154.00,504.25 L155.00,502.19 L156.00,500.12 L157.00,498.04 L158.00,495.93 L159.00,493.82 L160.00,491.70 L161.00,489.56 L162.00,487.43 L163.00,485.29 L164.00,483.15 L165.00,481.02 L166.00,478.90 L167.00,476.79 L168.00,474.69 L169.00,472.62 L170.00,470.57 L171.00,468.54 L172.00,466.55 L173.00,464.60 L174.00,462.69 L175.00,460.83 L176.00,459.02 L177.00,457.27 L178.00,455.58 L179.00,453.96 L180.00,452.41 L181.00,450.94 L182.00,449.55 L183.00,448.25 L184.00,447.04 L185.00,445.92 L186.00,444.91 L187.00,443.99 L188.00,443.19 L189.00,442.49 L190.00,441.91 L191.00,441.44 L192.00,441.08 L193.00,440.84 L194.00,440.73 L195.00,440.73 L196.00,440.83 L197.00,441.05 L198.00,441.37 L199.00,441.80 L200.00,442.33 L201.00,442.96 L202.00,443.69 L203.00,444.52 L204.00,445.45 L205.00,446.47 L206.00,447.57 L207.00,448.76 L208.00,450.03 L209.00,451.38 L210.00,452.81 L211.00,454.30 L212.00,455.86 L213.00,457.48 L214.00,459.16 L215.00,460.89 L216.00,462.67 L217.00,464.49 L218.00,466.36 L219.00,468.26 L220.00,470.19 L221.00,472.16 L222.00,474.15 L223.00,476.16 L224.00,478.19 L225.00,480.24 L226.00,482.30 L227.00,484.36 L228.00,486.44 L229.00,488.52 L230.00,490.59 L231.00,492.67 L232.00,494.74 L233.00,496.81 L234.00,498.87 L235.00,500.92 L236.00,502.96 L237.00,504.98 L238.00,506.99 L239.00,508.99 L240.00,510.96 L241.00,512.92 L242.00,514.86 L243.00,516.77 L244.00,518.67 L245.00,520.54 L246.00,522.39 L247.00,524.21 L248.00,526.01 L249.00,527.79 L250.00,529.54 L251.00,531.26 L252.00,532.96 L253.00,534.63 L254.00,536.27 L255.00,537.89 L256.00,539.47 L257.00,541.04 L258.00,542.57 L259.00,544.08 L260.00,545.55 L261.00,547.00 L262.00,548.43 L263.00,549.82 L264.00,551.19 L265.00,552.53 L266.00,553.85 L267.00,555.13 L268.00,556.39 L269.00,557.63 L270.00,558.84 L271.00,560.02 L272.00,561.18 L273.00,562.31 L274.00,563.41 L275.00,564.49 L276.00,565.55 L277.00,566.58 L278.00,567.59 L279.00,568.58 L280.00,569.54 L281.00,570.48 L282.00,571.40 L283.00,572.29 L284.00,573.17 L285.00,574.02 L286.00,574.85 L287.00,575.67 L288.00,576.46 L289.00,577.23 L290.00,577.98 L291.00,578.72 L292.00,579.43 L293.00,580.13 L294.00,580.81 L295.00,581.47 L296.00,582.12 L297.00,582.74 L298.00,583.36 L299.00,583.96 L300.00,584.54 L301.00,585.10 L302.00,585.66 L303.00,586.19 L304.00,586.72 L305.00,587.23 L306.00,587.73 L307.00,588.21 L308.00,588.68 L309.00,589.14 L310.00,589.59 L311.00,590.03 L312.00,590.45 L313.00,590.87 L314.00,591.27 L315.00,591.66 L316.00,592.05 L316.80,592.35" fill="none" stroke="#0c3e0c" stroke-width="1.70" stroke-linejoin="round" />
<path d="M46.50,624.04 L50.95,624.01 L55.50,623.98 L60.05,623.93 L64.60,623.87 L69.15,623.80 L73.70,623.71 L78.25,623.60 L82.80,623.45 L87.35,623.28 L91.90,623.05 L96.45,622.76 L101.00,622.39 L105.55,621.93 L110.10,621.33 L114.65,620.57 L119.20,619.59 L123.75,618.33 L128.30,616.72 L132.85,614.66 L137.40,612.02 L141.95,608.67 L146.50,604.43 L151.05,599.10 L155.60,592.47 L160.15,584.31 L164.70,574.45 L169.25,562.75 L173.80,549.18 L178.35,533.90 L182.90,517.29 L187.45,500.02 L192.00,482.99 L196.55,467.36 L201.10,454.38 L205.65,445.23 L210.20,440.78 L214.75,441.62 L219.30,447.98 L223.85,459.16 L228.40,473.93 L232.95,490.86 L237.50,508.56 L242.05,525.89 L246.60,542.03 L251.15,556.47 L255.70,569.02 L260.25,579.67 L264.80,588.55 L269.35,595.84 L273.90,601.78 L278.45,606.57 L283.00,610.43 L287.55,613.52 L292.10,616.00 L296.65,617.98 L301.20,619.57 L305.75,620.85 L310.30,621.88 L314.85,622.70 L316.50,622.96" fill="none" stroke="#000" stroke-width="1.70" stroke-linejoin="round" />
<path d="M51.00,615.23 L52.00,614.77 L53.00,614.30 L54.00,613.81 L55.00,613.30 L56.00,612.77 L57.00,612.23 L58.00,611.67 L59.00,611.09 L60.00,610.50 L61.00,609.88 L62.00,609.24 L63.00,608.59 L64.00,607.91 L65.00,607.21 L66.00,606.50 L67.00,605.76 L68.00,604.99 L69.00,604.21 L70.00,603.41 L71.00,602.58 L72.00,601.72 L73.00,600.85 L74.00,599.95 L75.00,599.02 L76.00,598.08 L77.00,597.10 L78.00,596.11 L79.00,595.08 L80.00,594.03 L81.00,592.96 L82.00,591.86 L83.00,590.73 L84.00,589.58 L85.00,588.40 L86.00,587.19 L87.00,585.96 L88.00,584.70 L89.00,583.41 L90.00,582.10 L91.00,580.76 L92.00,579.39 L93.00,578.00 L94.00,576.58 L95.00,575.13 L96.00,573.65 L97.00,572.15 L98.00,570.63 L99.00,569.08 L100.00,567.50 L101.00,565.90 L102.00,564.27 L103.00,562.62 L104.00,560.94 L105.00,559.24 L106.00,557.52 L107.00,555.77 L108.00,554.00 L109.00,552.21 L110.00,550.40 L111.00,548.56 L112.00,546.71 L113.00,544.84 L114.00,542.95 L115.00,541.05 L116.00,539.12 L117.00,537.18 L118.00,535.23 L119.00,533.26 L120.00,531.28 L121.00,529.29 L122.00,527.28 L123.00,525.27 L124.00,523.25 L125.00,521.22 L126.00,519.18 L127.00,517.14 L128.00,515.09 L129.00,513.05 L130.00,511.00 L131.00,508.95 L132.00,506.90 L133.00,504.85 L134.00,502.81 L135.00,500.78 L136.00,498.75 L137.00,496.73 L138.00,494.73 L139.00,492.73 L140.00,490.75 L141.00,488.78 L142.00,486.83 L143.00,484.90 L144.00,482.98 L145.00,481.09 L146.00,479.22 L147.00,477.38 L148.00,475.56 L149.00,473.78 L150.00,472.02 L151.00,470.29 L152.00,468.60 L153.00,466.94 L154.00,465.32 L155.00,463.74 L156.00,462.20 L157.00,460.69 L158.00,459.24 L159.00,457.82 L160.00,456.46 L161.00,455.14 L162.00,453.87 L163.00,452.66 L164.00,451.49 L165.00,450.38 L166.00,449.33 L167.00,448.33 L168.00,447.39 L169.00,446.50 L170.00,445.68 L171.00,444.92 L172.00,444.22 L173.00,443.59 L174.00,443.02 L175.00,442.51 L176.00,442.07 L177.00,441.69 L178.00,441.38 L179.00,441.14 L180.00,440.96 L181.00,440.86 L182.00,440.81 L183.00,440.84 L184.00,440.93 L185.00,441.09 L186.00,441.32 L187.00,441.61 L188.00,441.97 L189.00,442.39 L190.00,442.87 L191.00,443.43 L192.00,444.04 L193.00,444.72 L194.00,445.46 L195.00,446.26 L196.00,447.12 L197.00,448.04 L198.00,449.02 L199.00,450.05 L200.00,451.15 L201.00,452.30 L202.00,453.50 L203.00,454.75 L204.00,456.06 L205.00,457.42 L206.00,458.83 L207.00,460.28 L208.00,461.78 L209.00,463.32 L210.00,464.91 L211.00,466.54 L212.00,468.21 L213.00,469.91 L214.00,471.66 L215.00,473.43 L216.00,475.24 L217.00,477.09 L218.00,478.96 L219.00,480.86 L220.00,482.78 L221.00,484.73 L222.00,486.70 L223.00,488.70 L224.00,490.71 L225.00,492.74 L226.00,494.79 L227.00,496.85 L228.00,498.92 L229.00,501.00 L230.00,503.09 L231.00,505.19 L232.00,507.30 L233.00,509.40 L234.00,511.52 L235.00,513.63 L236.00,515.74 L237.00,517.85 L238.00,519.95 L239.00,522.05 L240.00,524.15 L241.00,526.23 L242.00,528.31 L243.00,530.37 L244.00,532.43 L245.00,534.47 L246.00,536.49 L247.00,538.51 L248.00,540.50 L249.00,542.48 L250.00,544.44 L251.00,546.38 L252.00,548.30 L253.00,550.19 L254.00,552.07 L255.00,553.92 L256.00,555.75 L257.00,557.56 L258.00,559.34 L259.00,561.09 L260.00,562.82 L261.00,564.53 L262.00,566.20 L263.00,567.85 L264.00,569.47 L265.00,571.06 L266.00,572.62 L267.00,574.16 L268.00,575.66 L269.00,577.14 L270.00,578.59 L271.00,580.00 L272.00,581.39 L273.00,582.75 L274.00,584.08 L275.00,585.38 L276.00,586.65 L277.00,587.89 L278.00,589.10 L279.00,590.28 L280.00,591.43 L281.00,592.55 L282.00,593.65 L283.00,594.72 L284.00,595.75 L285.00,596.76 L286.00,597.75 L287.00,598.70 L288.00,599.63 L289.00,600.53 L290.00,601.41 L291.00,602.26 L292.00,603.08 L293.00,603.88 L294.00,604.65 L295.00,605.40 L296.00,606.13 L297.00,606.83 L298.00,607.51 L299.00,608.17 L300.00,608.81 L301.00,609.42 L302.00,610.02 L303.00,610.59 L304.00,611.14 L305.00,611.68 L306.00,612.19 L307.00,612.68 L308.00,613.16 L309.00,613.62 L310.00,614.06 L311.00,614.49 L312.00,614.90 L313.00,615.29 L314.00,615.67 L315.00,616.03 L316.00,616.38 L316.80,616.65" fill="none" stroke="#0a880a" stroke-width="1.70" stroke-linejoin="round" />
<path d="M400.00,621.67 L401.00,621.65 L402.00,621.62 L403.00,621.59 L404.00,621.56 L405.00,621.53 L406.00,621.50 L407.00,621.47 L408.00,621.44 L409.00,621.41 L410.00,621.38 L411.00,621.35 L412.00,621.31 L413.00,621.28 L414.00,621.24 L415.00,621.20 L416.00,621.17 L417.00,621.13 L418.00,621.09 L419.00,621.05 L420.00,621.01 L421.00,620.97 L422.00,620.93 L423.00,620.88 L424.00,620.84 L425.00,620.79 L426.00,620.75 L427.00,620.70 L428.00,620.65 L429.00,620.60 L430.00,620.55 L431.00,620.49 L432.00,620.44 L433.00,620.38 L434.00,620.33 L435.00,620.27 L436.00,620.21 L437.00,620.14 L438.00,620.08 L439.00,620.01 L440.00,619.95 L441.00,619.88 L442.00,619.80 L443.00,619.73 L444.00,619.65 L445.00,619.57 L446.00,619.49 L447.00,619.41 L448.00,619.32 L449.00,619.23 L450.00,619.13 L451.00,619.03 L452.00,618.93 L453.00,618.83 L454.00,618.72 L455.00,618.60 L456.00,618.48 L457.00,618.35 L458.00,618.22 L459.00,618.08 L460.00,617.93 L461.00,617.77 L462.00,617.60 L463.00,617.43 L464.00,617.24 L465.00,617.04 L466.00,616.83 L467.00,616.60 L468.00,616.35 L469.00,616.09 L470.00,615.81 L471.00,615.51 L472.00,615.18 L473.00,614.83 L474.00,614.45 L475.00,614.05 L476.00,613.60 L477.00,613.13 L478.00,612.61 L479.00,612.05 L480.00,611.45 L481.00,610.79 L482.00,610.08 L483.00,609.32 L484.00,608.49 L485.00,607.60 L486.00,606.64 L487.00,605.60 L488.00,604.48 L489.00,603.28 L490.00,601.99 L491.00,600.60 L492.00,599.11 L493.00,597.52 L494.00,595.82 L495.00,594.01 L496.00,592.08 L497.00,590.02 L498.00,587.84 L499.00,585.53 L500.00,583.09 L501.00,580.51 L502.00,577.79 L503.00,574.93 L504.00,571.93 L505.00,568.79 L506.00,565.51 L507.00,562.09 L508.00,558.53 L509.00,554.84 L510.00,551.02 L511.00,547.07 L512.00,543.00 L513.00,538.83 L514.00,534.54 L515.00,530.16 L516.00,525.70 L517.00,521.16 L518.00,516.57 L519.00,511.93 L520.00,507.26 L521.00,502.57 L522.00,497.90 L523.00,493.24 L524.00,488.63 L525.00,484.09 L526.00,479.64 L527.00,475.30 L528.00,471.10 L529.00,467.06 L530.00,463.22 L531.00,459.59 L532.00,456.21 L533.00,453.10 L534.00,450.29 L535.00,447.80 L536.00,445.65 L537.00,443.87 L538.00,442.47 L539.00,441.46 L540.00,440.86 L541.00,440.67 L542.00,440.92 L543.00,441.61 L544.00,442.75 L545.00,444.31 L546.00,446.29 L547.00,448.66 L548.00,451.39 L549.00,454.47 L550.00,457.86 L551.00,461.53 L552.00,465.45 L553.00,469.59 L554.00,473.92 L555.00,478.41 L556.00,483.03 L557.00,487.76 L558.00,492.56 L559.00,497.42 L560.00,502.30 L561.00,507.19 L562.00,512.06 L563.00,516.91 L564.00,521.70 L565.00,526.42 L566.00,531.07 L567.00,535.62 L568.00,540.06 L569.00,544.39 L570.00,548.59 L571.00,552.66 L572.00,556.60 L573.00,560.39 L574.00,564.03 L575.00,567.52 L576.00,570.86 L577.00,574.05 L578.00,577.08 L579.00,579.96 L580.00,582.70 L581.00,585.28 L582.00,587.72 L583.00,590.02 L584.00,592.18 L585.00,594.20 L586.00,596.10 L587.00,597.88 L588.00,599.53 L589.00,601.08 L590.00,602.52 L591.00,603.85 L592.00,605.09 L593.00,606.24 L594.00,607.31 L595.00,608.29 L596.00,609.20 L597.00,610.04 L598.00,610.81 L599.00,611.53 L600.00,612.19 L601.00,612.80 L602.00,613.36 L603.00,613.87 L604.00,614.35 L605.00,614.79 L606.00,615.20 L607.00,615.57 L608.00,615.92 L609.00,616.24 L610.00,616.54 L611.00,616.82 L612.00,617.08 L613.00,617.32 L614.00,617.55 L615.00,617.76 L616.00,617.96 L617.00,618.14 L618.00,618.32 L619.00,618.48 L620.00,618.64 L621.00,618.79 L622.00,618.93 L623.00,619.06 L624.00,619.19 L625.00,619.31 L625.60,619.38" fill="none" stroke="#1a4f8f" stroke-width="1.70" stroke-linejoin="round" />
<path d="M468.00,624.17 L469.00,624.16 L470.00,624.14 L471.00,624.13 L472.00,624.11 L473.00,624.10 L474.00,624.08 L475.00,624.06 L476.00,624.03 L477.00,624.01 L478.00,623.98 L479.00,623.95 L480.00,623.91 L481.00,623.87 L482.00,623.83 L483.00,623.79 L484.00,623.73 L485.00,623.68 L486.00,623.61 L487.00,623.54 L488.00,623.47 L489.00,623.38 L490.00,623.28 L491.00,623.18 L492.00,623.06 L493.00,622.93 L494.00,622.78 L495.00,622.62 L496.00,622.43 L497.00,622.23 L498.00,622.00 L499.00,621.75 L500.00,621.47 L501.00,621.15 L502.00,620.80 L503.00,620.41 L504.00,619.97 L505.00,619.48 L506.00,618.93 L507.00,618.32 L508.00,617.64 L509.00,616.88 L510.00,616.04 L511.00,615.09 L512.00,614.04 L513.00,612.87 L514.00,611.57 L515.00,610.12 L516.00,608.51 L517.00,606.73 L518.00,604.75 L519.00,602.57 L520.00,600.16 L521.00,597.51 L522.00,594.60 L523.00,591.40 L524.00,587.91 L525.00,584.10 L526.00,579.96 L527.00,575.48 L528.00,570.65 L529.00,565.47 L530.00,559.92 L531.00,554.02 L532.00,547.79 L533.00,541.23 L534.00,534.38 L535.00,527.28 L536.00,519.97 L537.00,512.51 L538.00,504.97 L539.00,497.43 L540.00,489.96 L541.00,482.68 L542.00,475.67 L543.00,469.04 L544.00,462.90 L545.00,457.34 L546.00,452.45 L547.00,448.34 L548.00,445.08 L549.00,442.72 L550.00,441.32 L551.00,440.90 L552.00,441.60 L553.00,443.49 L554.00,446.51 L555.00,450.58 L556.00,455.58 L557.00,461.40 L558.00,467.89 L559.00,474.89 L560.00,482.28 L561.00,489.91 L562.00,497.65 L563.00,505.39 L564.00,513.05 L565.00,520.53 L566.00,527.77 L567.00,534.73 L568.00,541.36 L569.00,547.66 L570.00,553.59 L571.00,559.16 L572.00,564.38 L573.00,569.24 L574.00,573.76 L575.00,577.95 L576.00,581.83 L577.00,585.42 L578.00,588.73 L579.00,591.79 L580.00,594.60 L581.00,597.19 L582.00,599.58 L583.00,601.78 L584.00,603.81 L585.00,605.67 L586.00,607.39 L587.00,608.97 L588.00,610.42 L589.00,611.77 L590.00,613.00 L591.00,614.15 L592.00,615.20 L593.00,616.18 L594.00,617.08 L595.00,617.91 L596.00,618.68 L597.00,619.40 L598.00,620.06 L599.00,620.67 L600.00,621.25 L601.00,621.78 L602.00,622.27 L602.50,622.50" fill="none" stroke="#000" stroke-width="1.70" stroke-linejoin="round" />
<path d="M400.00,623.45 L400.90,623.41 L404.40,623.15 L407.90,622.73 L411.40,622.03 L414.90,620.94 L418.40,619.28 L421.90,616.81 L425.40,613.27 L428.90,608.35 L432.40,601.73 L435.90,593.14 L439.40,582.36 L442.90,569.32 L446.40,554.13 L449.90,537.15 L453.40,518.99 L456.90,500.50 L460.40,482.74 L463.90,466.85 L467.40,453.96 L470.90,445.07 L474.40,440.88 L477.90,441.77 L481.40,447.75 L484.90,458.33 L488.40,472.66 L491.90,489.65 L495.40,508.09 L498.90,526.82 L502.40,544.82 L505.90,561.31 L509.40,575.77 L512.90,587.95 L516.40,597.83 L519.90,605.54 L523.40,611.37 L526.90,615.61 L530.40,618.61 L533.40,620.41" fill="none" stroke="#3b93f8" stroke-width="1.70" stroke-linejoin="round" />
<path d="M560.50,622.93 L561.50,622.75 L562.50,622.55 L563.50,622.32 L564.50,622.06 L565.50,621.76 L566.50,621.42 L567.50,621.04 L568.50,620.60 L569.50,620.11 L570.50,619.56 L571.50,618.95 L572.50,618.26 L573.50,617.50 L574.50,616.64 L575.50,615.70 L576.50,614.66 L577.50,613.50 L578.50,612.24 L579.50,610.85 L580.50,609.33 L581.50,607.68 L582.50,605.88 L583.50,603.92 L584.50,601.81 L585.50,599.53 L586.50,597.09 L587.50,594.46 L588.50,591.65 L589.50,588.66 L590.50,585.48 L591.50,582.11 L592.50,578.56 L593.50,574.81 L594.50,570.88 L595.50,566.76 L596.50,562.47 L597.50,558.02 L598.50,553.40 L599.50,548.63 L600.50,543.73 L601.50,538.71 L602.50,533.58 L603.50,528.37 L604.50,523.08 L605.50,517.76 L606.50,512.41 L607.50,507.06 L608.50,501.74 L609.50,496.47 L610.50,491.29 L611.50,486.21 L612.50,481.27 L613.50,476.49 L614.50,471.91 L615.50,467.55 L616.50,463.43 L617.50,459.59 L618.50,456.04 L619.50,452.82 L620.50,449.93 L621.50,447.41 L622.50,445.26 L623.50,443.51 L624.50,442.16 L625.50,441.22 L626.50,440.71 L627.50,440.62 L628.50,440.92 L629.50,441.60 L630.50,442.65 L631.50,444.08 L632.50,445.87 L633.50,448.01 L634.50,450.49 L635.50,453.30 L636.50,456.41 L637.50,459.81 L638.50,463.48 L639.50,467.41 L640.50,471.56 L641.50,475.91 L642.50,480.45 L643.50,485.15 L644.50,489.99 L645.50,494.93 L646.50,499.97 L647.50,505.07 L648.50,510.21 L649.50,515.37 L650.50,520.53 L651.50,525.67 L652.50,530.77 L653.50,535.82 L654.50,540.78 L655.50,545.65 L656.50,550.42 L657.50,555.07 L658.50,559.59 L659.50,563.98 L660.50,568.21 L661.50,572.29 L662.50,576.21 L663.50,579.96 L664.50,583.54 L665.50,586.96 L666.50,590.20 L667.50,593.28 L668.50,596.18 L669.50,598.92 L670.50,601.49 L671.30,603.43" fill="none" stroke="#3b93f8" stroke-width="1.70" stroke-linejoin="round" stroke-dasharray="6.8 3"/>
<rect x="46.1" y="703.1" width="626.6" height="230.4" fill="none" stroke="#000" stroke-width="1.7"/>
<text x="150.00" y="743.50" font-size="12.20" fill="#222" textLength="407.00" lengthAdjust="spacingAndGlyphs" >Nitrile experienced electric field change upon DMSO solvation (MV cm</text>
<text x="556.9" y="738.6" font-size="7.6" fill="#222">−1</text>
<text x="564.60" y="743.50" font-size="12.20" fill="#222" >)</text>
<line x1="71.23" y1="770.90" x2="646.20" y2="770.90" stroke="#8c8c8c" stroke-width="1.30"/>
<line x1="71.23" y1="770.90" x2="71.23" y2="777.00" stroke="#7a7a7a" stroke-width="1.00"/>
<text x="71.23" y="764.80" font-size="10.20" text-anchor="middle" fill="#222" >10</text>
<line x1="123.50" y1="770.90" x2="123.50" y2="777.00" stroke="#7a7a7a" stroke-width="1.00"/>
<text x="123.50" y="764.80" font-size="10.20" text-anchor="middle" fill="#222" >0</text>
<line x1="175.77" y1="770.90" x2="175.77" y2="777.00" stroke="#7a7a7a" stroke-width="1.00"/>
<text x="175.77" y="764.80" font-size="10.20" text-anchor="middle" fill="#222" >–10</text>
<line x1="228.04" y1="770.90" x2="228.04" y2="777.00" stroke="#7a7a7a" stroke-width="1.00"/>
<text x="228.04" y="764.80" font-size="10.20" text-anchor="middle" fill="#222" >–20</text>
<line x1="280.31" y1="770.90" x2="280.31" y2="777.00" stroke="#7a7a7a" stroke-width="1.00"/>
<text x="280.31" y="764.80" font-size="10.20" text-anchor="middle" fill="#222" >–30</text>
<line x1="332.58" y1="770.90" x2="332.58" y2="777.00" stroke="#7a7a7a" stroke-width="1.00"/>
<text x="332.58" y="764.80" font-size="10.20" text-anchor="middle" fill="#222" >–40</text>
<line x1="384.85" y1="770.90" x2="384.85" y2="777.00" stroke="#7a7a7a" stroke-width="1.00"/>
<text x="384.85" y="764.80" font-size="10.20" text-anchor="middle" fill="#222" >–50</text>
<line x1="437.12" y1="770.90" x2="437.12" y2="777.00" stroke="#7a7a7a" stroke-width="1.00"/>
<text x="437.12" y="764.80" font-size="10.20" text-anchor="middle" fill="#222" >–60</text>
<line x1="489.39" y1="770.90" x2="489.39" y2="777.00" stroke="#7a7a7a" stroke-width="1.00"/>
<text x="489.39" y="764.80" font-size="10.20" text-anchor="middle" fill="#222" >–70</text>
<line x1="541.66" y1="770.90" x2="541.66" y2="777.00" stroke="#7a7a7a" stroke-width="1.00"/>
<text x="541.66" y="764.80" font-size="10.20" text-anchor="middle" fill="#222" >–80</text>
<line x1="593.93" y1="770.90" x2="593.93" y2="777.00" stroke="#7a7a7a" stroke-width="1.00"/>
<text x="593.93" y="764.80" font-size="10.20" text-anchor="middle" fill="#222" >–90</text>
<line x1="646.20" y1="770.90" x2="646.20" y2="777.00" stroke="#7a7a7a" stroke-width="1.00"/>
<text x="646.20" y="764.80" font-size="10.20" text-anchor="middle" fill="#222" >–100</text>
<text x="83.00" y="813.60" font-size="11.80" text-anchor="end" fill="#222" >TPAN</text>
<line x1="122.20" y1="809.50" x2="260.70" y2="809.50" stroke="#4a5670" stroke-width="1.90"/>
<path d="M266.70,809.50 L259.20,806.30 L261.07,809.50 L259.20,812.70 Z" fill="#4a5670"/>
<text x="83.00" y="838.20" font-size="11.80" text-anchor="end" fill="#2b2b99" >HY</text>
<line x1="120.20" y1="834.50" x2="177.20" y2="834.50" stroke="#0808ff" stroke-width="1.90"/>
<path d="M183.20,834.50 L175.70,831.30 L177.57,834.50 L175.70,837.70 Z" fill="#0808ff"/>
<text x="83.00" y="863.40" font-size="11.80" text-anchor="end" fill="#5a1a90" >TFM</text>
<line x1="93.30" y1="859.90" x2="210.80" y2="859.90" stroke="#7208e8" stroke-width="1.90"/>
<path d="M216.80,859.90 L209.30,856.70 L211.18,859.90 L209.30,863.10 Z" fill="#7208e8"/>
<text x="83.00" y="888.20" font-size="11.80" text-anchor="end" fill="#1a6a1a" >Ph</text>
<line x1="174.50" y1="884.70" x2="197.70" y2="884.70" stroke="#0a880a" stroke-width="1.90"/>
<path d="M203.70,884.70 L196.20,881.50 L198.07,884.70 L196.20,887.90 Z" fill="#0a880a"/>
<text x="83.00" y="913.60" font-size="11.80" text-anchor="end" fill="#2c5aa0" >AA</text>
<line x1="627.20" y1="909.60" x2="218.40" y2="909.60" stroke="#3b93f8" stroke-width="1.90"/>
<path d="M212.40,909.60 L219.90,906.40 L218.03,909.60 L219.90,912.80 Z" fill="#3b93f8"/>
</svg>
</body></html>
